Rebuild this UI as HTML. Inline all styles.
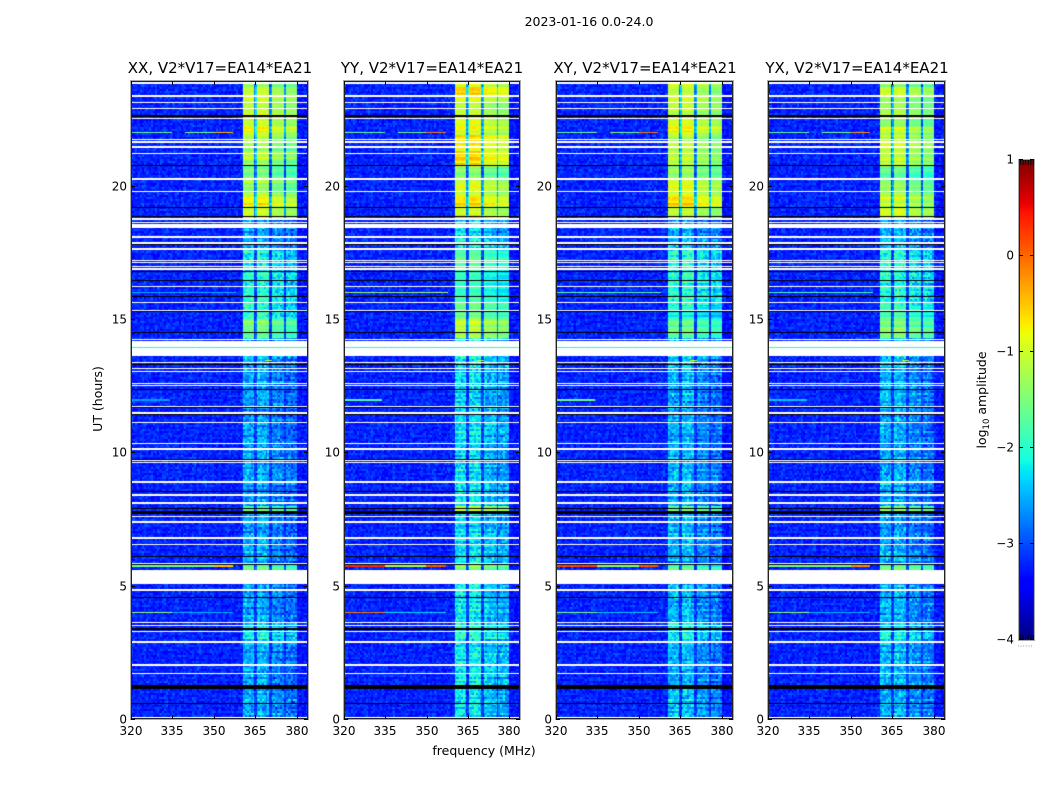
<!DOCTYPE html>
<html>
<head>
<meta charset="utf-8">
<title>2023-01-16 0.0-24.0</title>
<style>
html,body{margin:0;padding:0;background:#fff;}
#figure{position:relative;width:1050px;height:800px;background:#fff;overflow:hidden;font-family:"DejaVu Sans","Liberation Sans",sans-serif;}
canvas{position:absolute;display:block;}
svg{position:absolute;left:0;top:0;}
svg text{font-family:"DejaVu Sans","Liberation Sans",sans-serif;fill:#000;}
</style>
</head>
<body>
<div id="figure">
<canvas id="hm0" width="177" height="638" style="left:131px;top:81px"></canvas>
<canvas id="hm1" width="176" height="638" style="left:344px;top:81px"></canvas>
<canvas id="hm2" width="177" height="638" style="left:556px;top:81px"></canvas>
<canvas id="hm3" width="177" height="638" style="left:768px;top:81px"></canvas>
<canvas id="cbar" width="15" height="480" style="left:1019px;top:160px"></canvas>
<svg id="overlay" width="1050" height="800" viewBox="0 0 1050 800">
<text x="589" y="26" font-size="12.5" text-anchor="middle">2023-01-16 0.0-24.0</text>
<text x="220" y="73" font-size="15" text-anchor="middle">XX, V2*V17=EA14*EA21</text>
<text x="432" y="73" font-size="15" text-anchor="middle">YY, V2*V17=EA14*EA21</text>
<text x="645" y="73" font-size="15" text-anchor="middle">XY, V2*V17=EA14*EA21</text>
<text x="857" y="73" font-size="15" text-anchor="middle">YX, V2*V17=EA14*EA21</text>
<text transform="translate(102,399) rotate(-90)" font-size="12.5" text-anchor="middle">UT (hours)</text>
<text x="484" y="755" font-size="12.5" text-anchor="middle">frequency (MHz)</text>
<text transform="translate(986,400) rotate(-90)" font-size="12.5" text-anchor="middle">log<tspan font-size="8.5" dy="3">10</tspan><tspan dy="-3"> amplitude</tspan></text>
</svg>
</div>
<script>
// ---- axis data ----
var freqTicks = [320, 335, 350, 365, 380];
var hourTicks = [0, 5, 10, 15, 20];
var colorbarTicks = [1, 0, -1, -2, -3, -4];
var colorbarTickLabels = ['1', '0', '\u22121', '\u22122', '\u22123', '\u22124'];

// ---- time-block activity: peak log10 amplitude in the 360-380 MHz band ----
var blockStartHours = [0, 1.2, 3.0, 3.6, 5.3, 5.8, 7.7, 8.0, 9.6, 13.4, 14.3, 15.0, 15.5, 16.4, 17.6, 18.75, 20.8];
var activityXX = [-2.55, -2.55, -2.2, -2.55, -1.7, -2.6, -1.6, -2.6, -2.6, -2.5, -1.5, -1.95, -2.1, -2.05, -2.6, -1.2, -1.2];
var activityYY = [-2.25, -2.25, -1.95, -2.25, -1.45, -2.3, -1.3, -2.3, -2.3, -2.15, -1.3, -1.75, -1.85, -1.75, -2.3, -0.95, -0.85];
var activityXY = [-2.5, -2.5, -2.2, -2.5, -1.7, -2.55, -1.6, -2.55, -2.55, -2.45, -1.5, -1.9, -2.05, -2.0, -2.55, -1.15, -1.1];
var activityYX = [-2.5, -2.5, -2.2, -2.5, -1.7, -2.55, -1.6, -2.55, -2.55, -2.45, -1.5, -1.9, -2.05, -2.0, -2.55, -1.2, -1.2];

// ---- per-MHz noise floor, 320..383 ----
var channelFloor = [-3.22,-3.22,-3.22,-3.22,-3.22,-3.22,-3.22,-3.22,-3.22,-3.22,-3.22,-3.22,-3.22,-3.22,-3.22,-3.22,-3.22,-3.22,-3.22,-3.22,-3.22,-3.22,-3.22,-3.22,-3.22,-3.22,-3.22,-3.22,-3.22,-3.22,-3.22,-3.22,-3.22,-3.22,-3.22,-3.22,-3.22,-3.22,-3.22,-3.22,-3.15,-3.1,-3.1,-3.1,-3.1,-3.1,-3.1,-3.1,-3.1,-3.1,-3.1,-3.1,-3.1,-3.1,-3.1,-3.1,-3.1,-3.1,-3.1,-3.1,-3.3,-3.3,-3.3,-3.3];
// ---- in-band gain relative to the block peak, half-MHz steps from 360 MHz ----
var bandGain = [-9,0,0,0,0,0,0,0,0,-1.7,-1.2,0.05,0.05,0.05,0.05,0.05,0.03,0,0,0,-1.7,-1.5,-0.15,-0.15,-0.18,-0.2,-0.2,-0.2,-0.2,-0.22,-0.25,-1.6,-0.3,-0.3,-0.3,-0.3,-0.3,-0.32,-0.32,-0.35];

// ---- flagged rows (UT hours) ----
var whiteRowHours = [23.85,23.37,23.13,22.89,22.53,21.74,21.65,21.46,21.22,20.26,19.79,18.75,18.07,17.85,17.62,17.19,17.12,16.97,16.88,16.23,15.63,15.32,14.23,13.38,13.15,13.04,12.59,12.51,11.72,11.47,11.13,10.34,10.12,9.69,9.63,8.88,8.40,8.10,7.38,6.78,6.55,5.84,4.83,3.62,3.51,3.29,2.88,1.71,0.03];
var whiteSpanStart = [18.62, 18.42, 13.97, 13.62, 5.08, 1.98, 7.56];
var whiteSpanEnd = [18.66, 18.56, 14.19, 13.91, 5.58, 2.06, 7.62];
var blackRowHours = [20.75,19.19,18.84,17.81,16.78,16.43,15.85,15.29,14.51,13.30,12.36,11.69,11.42,9.75,8.54,7.90,6.09,5.78,4.54,0.58];
var blackSpanStart = [22.59, 7.70, 3.35, 1.13];
var blackSpanEnd = [22.67, 7.80, 3.40, 1.29];

// ---- in-band level changes over short stretches ----
var hotStart = [19.24, 22.0, 23.44, 20.95, 18.8, 20.25, 22.68];
var hotEnd = [19.6, 22.25, 23.64, 21.15, 18.95, 20.75, 23.0];
var hotBoost = [0.35, 0.3, 0.2, 0.12, 0.15, -0.35, -0.15];

// ---- narrow RFI segments ----
var rfiHour = [22.0,22.0,22.0,16.0,5.74,5.74,5.74,4.0,4.0,11.96,13.94,13.44];
var rfiFrom = [320,339.5,350,320,320,335,350,320,335,320,320,368.5];
var rfiTo = [335,350,357,358,335,350,357,336,357,334,384,371];
var rfiXX = [-1.6,-1.5,-0.4,-2.5,-1.5,-1.5,-0.5,-1.4,-2.5,-2.6,-2.1,-1.1];
var rfiYY = [-1.6,-1.5,-0.1,-1.3,0.35,-1.2,0.1,-0.1,-2.3,-1.8,-2.1,-1.1];
var rfiXY = [-1.6,-1.5,-0.1,-1.7,0.2,-1.4,0.1,-1.5,-2.4,-1.6,-2.1,-1.1];
var rfiYX = [-1.6,-1.5,-0.2,-1.8,-1.5,-1.5,-0.2,-1.4,-2.5,-2.4,-2.1,-1.1];

// ---- fixed speckle tables: a texture approximation, not read cell by cell ----
var grainA = [0.12,-0.21,0.05,0.27,-0.09,-0.3,0.18,0.02,-0.14,0.24,-0.26,0.08,-0.03,0.3,-0.18,0.11,-0.07,-0.24,0.21,0.04,-0.12,0.16,-0.29,0.26,0.01,-0.16,0.09,-0.05,0.23,-0.22,0.14,-0.1,0.28,-0.27,0.06,0.19,-0.01,-0.19,0.1,-0.13,0.25,-0.08,0.03,-0.25,0.17,0.07,-0.17,0.29,-0.04,-0.28,0.13,0.2,-0.11,0,0.22,-0.2,0.15,-0.06,-0.15];
var grainB = [-0.08,0.17,-0.2,0.03,0.25,-0.14,0.09,-0.27,0.2,0.01,-0.05,0.28,-0.18,0.12,-0.1,-0.24,0.06,0.22,-0.01,-0.16,0.14,0.27,-0.22,0.04,-0.12,0.19,-0.29,0.1,0.24,-0.07,-0.19,0.15,0.02,-0.25,0.3,-0.03,0.08,-0.15,0.21,-0.28,0.11,0.05,-0.21,0.18,-0.09,0.26,-0.13,0,0.16,-0.26,0.07,-0.04,0.23,-0.17,0.13,-0.23,0.29,-0.11,-0.02,0.2,-0.06];
var rowStreak = [0.1,-0.22,0.28,-0.05,0.16,-0.3,0.04,0.24,-0.14,-0.02,0.32,-0.26,0.08,-0.1,0.2,-0.18,0.02,0.3,-0.24,0.12,-0.06,0.26,-0.32,0.14,0,-0.16,0.22,-0.08,0.18,-0.28,0.06,0.34,-0.2,-0.04,0.12,-0.12,0.26,-0.3,0.16,0.03,-0.18,0.24,-0.1];

// ---- layout & axis functions ----
var plotLefts = [131, 344, 556, 768];
var plotWidths = [177, 176, 177, 177];
var plotTop = 81, plotBottom = 719;
var svgNS = 'http://www.w3.org/2000/svg';
var overlay = document.getElementById('overlay');
var freqMin = 320, freqMax = 384, hourMin = 0, hourMax = 23.93;
function xScale(panel, mhz) { return plotLefts[panel] + (mhz - freqMin) / (freqMax - freqMin) * plotWidths[panel]; }
function yScale(hour) { return plotBottom - (hour - hourMin) / (hourMax - hourMin) * (plotBottom - plotTop); }
function yInvert(y) { return hourMin + (plotBottom - y) / (plotBottom - plotTop) * (hourMax - hourMin); }
function cbScale(v) { return 160 + (1 - v) / 5 * 480; }

function interp(t, xs, ys) {
  for (var i = 1; i < xs.length; i++) {
    if (t <= xs[i]) return ys[i - 1] + (t - xs[i - 1]) / (xs[i] - xs[i - 1]) * (ys[i] - ys[i - 1]);
  }
  return ys[ys.length - 1];
}
function jet(v) {
  var t = Math.max(0, Math.min(1, (v + 4) / 5));
  return [
    Math.round(255 * interp(t, [0, 0.35, 0.66, 0.89, 1], [0, 0, 1, 1, 0.5])),
    Math.round(255 * interp(t, [0, 0.125, 0.375, 0.64, 0.91, 1], [0, 0, 1, 1, 0, 0])),
    Math.round(255 * interp(t, [0, 0.11, 0.34, 0.65, 1], [0.5, 1, 1, 0, 0]))
  ];
}

// ---- per-pixel flag mask built from the hour arrays ----
var activitySets = [activityXX, activityYY, activityXY, activityYX];
var rfiSets = [rfiXX, rfiYY, rfiXY, rfiYX];
var HEIGHT = plotBottom - plotTop;
var pixelFlag = new Array(HEIGHT).fill(0);
var pixelRfi = [];
for (var py = 0; py < HEIGHT; py++) pixelRfi.push([]);
function markRow(hour, half, code) {
  var cy = yScale(hour) - plotTop;
  for (var y = 0; y < HEIGHT; y++) if (Math.abs(y + 0.5 - cy) <= half) pixelFlag[y] = code;
}
function markSpan(h0, h1, code) {
  var a = yScale(h1) - plotTop, b = yScale(h0) - plotTop;
  for (var y = 0; y < HEIGHT; y++) if (y + 0.5 >= a && y + 0.5 <= b) pixelFlag[y] = code;
}
blackRowHours.forEach(function (h) { markRow(h, 0.5, 2); });
blackSpanStart.forEach(function (h, i) { markSpan(h, blackSpanEnd[i], 2); });
whiteRowHours.forEach(function (h) { markRow(h, 0.75, 1); });
whiteSpanStart.forEach(function (h, i) { markSpan(h, whiteSpanEnd[i], 1); });
rfiHour.forEach(function (h, i) {
  var cy = yScale(h) - plotTop;
  for (var y = 0; y < HEIGHT; y++) if (Math.abs(y + 0.5 - cy) <= 0.8) pixelRfi[y].push(i);
});

function activityAt(panel, hour) {
  var idx = 0;
  for (var i = 0; i < blockStartHours.length; i++) if (hour >= blockStartHours[i]) idx = i;
  var a = activitySets[panel][idx];
  for (var j = 0; j < hotStart.length; j++) if (hour >= hotStart[j] && hour < hotEnd[j]) a += hotBoost[j];
  return a;
}
function gainAt(mhz) {
  var i = Math.floor((mhz - 360) * 2);
  if (i < 0 || i >= bandGain.length) return -9;
  return bandGain[i];
}
function cellValue(panel, r, c, hour, mhz) {
  var mi = Math.min(63, Math.max(0, Math.floor(mhz - freqMin)));
  var gA = grainA[(c * 3 + r * 7 + panel * 11) % grainA.length];
  var gB = grainB[(c * c + 3 * r * r + c * r + panel) % grainB.length];
  var streak = rowStreak[(r + (r >> 3)) % rowStreak.length];
  var coarse = rowStreak[((r >> 2) * 5 + panel) % rowStreak.length];
  var floorV = channelFloor[mi] + (gA + gB) * 0.6;
  var act = activityAt(panel, hour);
  var quiet = act < -1.9;
  var band = act + gainAt(mhz) + streak * (quiet ? 0.5 : 0.6) + coarse * (quiet ? 0.2 : 0.7) + (gA + gB) * (quiet ? 0.9 : 0.2);
  return Math.max(floorV, band);
}

// ---- paint heatmaps (noise grid: about 1.8 px x 2 px cells) ----
var CHANS = 96;
[0, 1, 2, 3].forEach(function (panel) {
  var cv = document.getElementById('hm' + panel), ctx = cv.getContext('2d');
  var W = cv.width, H = cv.height, img = ctx.createImageData(W, H), d = img.data;
  for (var y = 0; y < H; y++) {
    var r = Math.floor((H - 0.5 - y) / 2);
    var hour = yInvert(plotTop + y + 0.5);
    for (var x = 0; x < W; x++) {
      var c = Math.min(CHANS - 1, Math.floor((x + 0.5) / W * CHANS));
      var mhz = freqMin + (x + 0.5) / W * (freqMax - freqMin);
      var k = (y * W + x) * 4, col, rv = null;
      pixelRfi[y].forEach(function (i) {
        if (mhz >= rfiFrom[i] && mhz < rfiTo[i]) rv = rfiSets[panel][i];
      });
      if (pixelFlag[y] === 1) col = [255, 255, 255];
      else if (rv !== null) col = jet(rv + grainA[c % grainA.length] * 0.3);
      else if (pixelFlag[y] === 2) col = [0, 0, 0];
      else col = jet(cellValue(panel, r, c, hour, mhz));
      d[k] = col[0]; d[k + 1] = col[1]; d[k + 2] = col[2]; d[k + 3] = 255;
    }
  }
  ctx.putImageData(img, 0, 0);
});

// ---- colorbar ----
(function () {
  var cv = document.getElementById('cbar'), ctx = cv.getContext('2d');
  for (var y = 0; y < cv.height; y++) {
    var col = jet(1 - (y + 0.5) / cv.height * 5);
    ctx.fillStyle = 'rgb(' + col.join(',') + ')';
    ctx.fillRect(0, y, cv.width, 1);
  }
})();

// ---- axes ----
function line(x1, y1, x2, y2, stroke, w) {
  var l = document.createElementNS(svgNS, 'line');
  l.setAttribute('x1', x1); l.setAttribute('y1', y1);
  l.setAttribute('x2', x2); l.setAttribute('y2', y2);
  l.setAttribute('stroke', stroke); l.setAttribute('stroke-width', w);
  overlay.appendChild(l);
  return l;
}
function label(x, y, str, anchor) {
  var t = document.createElementNS(svgNS, 'text');
  t.setAttribute('x', x); t.setAttribute('y', y);
  t.setAttribute('font-size', '12');
  t.setAttribute('text-anchor', anchor);
  t.textContent = str;
  overlay.appendChild(t);
  return t;
}
function frame(x, y, w, h, color, sw) {
  var f = document.createElementNS(svgNS, 'rect');
  f.setAttribute('x', x); f.setAttribute('y', y);
  f.setAttribute('width', w); f.setAttribute('height', h);
  f.setAttribute('fill', 'none');
  f.setAttribute('stroke', color);
  f.setAttribute('stroke-width', sw);
  overlay.appendChild(f);
  return f;
}
plotLefts.forEach(function (left, p) {
  var right = left + plotWidths[p];
  var halo = frame(left - 0.5, plotTop - 0.5, plotWidths[p] + 1, plotBottom - plotTop + 1, '#aaa', 1);
  
  
  var box = frame(left + 0.5, plotTop + 0.5, plotWidths[p] - 1, plotBottom - plotTop - 1, '#222', 1);
  
  
  freqTicks.forEach(function (f) {
    var x = Math.round(xScale(p, f)) + 0.5;
    var t1 = line(x, plotBottom, x, plotBottom - 4, '#000', 1);
    
    
    var t2 = line(x, plotTop, x, plotTop + 4, '#000', 1);
    
    
    var tl = label(x - 0.5, plotBottom + 16, String(f), 'middle');
    
    
  });
  hourTicks.forEach(function (h) {
    var y = Math.round(yScale(h)) + 0.5;
    var t1 = line(left, y, left + 4, y, '#000', 1);
    
    
    var t2 = line(right, y, right - 4, y, '#000', 1);
    
    
    var tl = label(left - 4, y + 4, String(h), 'end');
    
    
  });
});

// ---- colorbar axis ----
var cbHalo = frame(1018.5, 159.5, 16, 481, '#aaa', 1);


var cbBox = frame(1019.5, 160.5, 14, 479, '#222', 1);


colorbarTicks.forEach(function (v, i) {
  var y = Math.round(cbScale(v)) - 0.5;
  var a = line(1019, y, 1023, y, '#000', 1);
  
  
  var b = line(1034, y, 1030, y, '#000', 1);
  
  
  var tl = label(1014, y + 4, colorbarTickLabels[i], 'end');
  
  
});
for (var m = 0; m < 6; m++) {
  var mx = 1020.5 + m * 2.6;
  var mt = line(mx, 160, mx, 165, '#000', 0.8);
  
  
  var mb = line(mx, 640, mx, 635, '#000', 0.8);
  
  
  var md = line(mx - 2.5, 646, mx - 1.5, 646, '#999', 1);
  
  
}
</script>
</body>
</html>
